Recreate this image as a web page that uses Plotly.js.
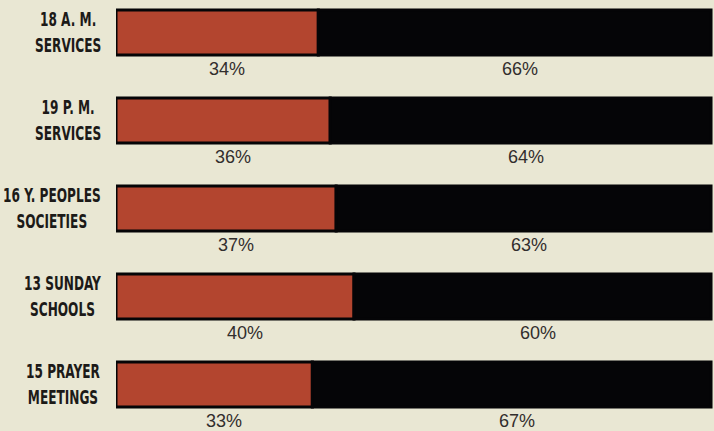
<!DOCTYPE html>
<html>
<head>
<meta charset="utf-8">
<script src="https://cdn.plot.ly/plotly-3.0.1.min.js"></script>
<style>
  html, body { margin: 0; padding: 0; background: #e9e7d3; }
  #chart { width: 714px; height: 431px; }
  /* tall, condensed group labels */
  .tall-label text {
    transform-box: fill-box;
    transform-origin: center;
    transform: scaleY(1.45);
  }
</style>
</head>
<body>
<div id="chart"></div>
<script>
// Share of attendance by group: red = first share, black = remainder
const categories = [
  "18 A. M.<br>SERVICES",
  "19 P. M.<br>SERVICES",
  "16 Y. PEOPLES<br>SOCIETIES",
  "13 SUNDAY<br>SCHOOLS",
  "15 PRAYER<br>MEETINGS"
];
const redShare = [34, 36, 37, 40, 33];
const blackShare = [66, 64, 63, 60, 67];

const ypos = categories.map((_, i) => i);
const barWidth = 0.511;

const red = {
  type: "bar", orientation: "h",
  y: ypos, x: redShare, base: 0, width: barWidth,
  marker: { color: "#b3452f", line: { color: "#050507", width: 3 } },
  hoverinfo: "skip"
};
const black = {
  type: "bar", orientation: "h",
  y: ypos, x: blackShare, base: redShare, width: barWidth,
  marker: { color: "#050507", line: { color: "#050507", width: 3 } },
  hoverinfo: "skip"
};

const labelFont = "DejaVu Sans Condensed, Liberation Sans Narrow, DejaVu Sans, sans-serif";
const pctFont = { family: "Liberation Sans, Arial, sans-serif", size: 18, color: "#322e2d" };
const annotations = [];
const labelIdx = [];
categories.forEach((c, i) => {
  labelIdx.push(annotations.length);
  annotations.push({
    xref: "paper", yref: "y", x: -0.022, y: i, xanchor: "right", yanchor: "middle",
    text: c, showarrow: false, align: "center",
    font: { family: labelFont, size: 13.5, color: "#1c1a18", weight: 700 }
  });
  annotations.push({
    xref: "x", yref: "y", x: redShare[i] / 2, y: i + 0.42,
    text: redShare[i] + "%", showarrow: false, xshift: 10, font: pctFont
  });
  annotations.push({
    xref: "x", yref: "y", x: redShare[i] + blackShare[i] / 2, y: i + 0.42,
    text: blackShare[i] + "%", showarrow: false, xshift: 5, font: pctFont
  });
});

const layout = {
  width: 714, height: 431,
  margin: { l: 116, r: 0, t: 0, b: 0 },
  paper_bgcolor: "#e9e7d3", plot_bgcolor: "#e9e7d3",
  barmode: "overlay", showlegend: false,
  xaxis: { range: [0, 100.5], visible: false, fixedrange: true },
  yaxis: { range: [4.529, -0.369], visible: false, fixedrange: true },
  annotations: annotations
};

Plotly.newPlot("chart", [red, black], layout, { displayModeBar: false, staticPlot: true })
  .then(() => {
    document.querySelectorAll("#chart g.annotation").forEach(g => {
      if (labelIdx.includes(+g.getAttribute("data-index"))) g.classList.add("tall-label");
    });
  });
</script>
</body>
</html>
